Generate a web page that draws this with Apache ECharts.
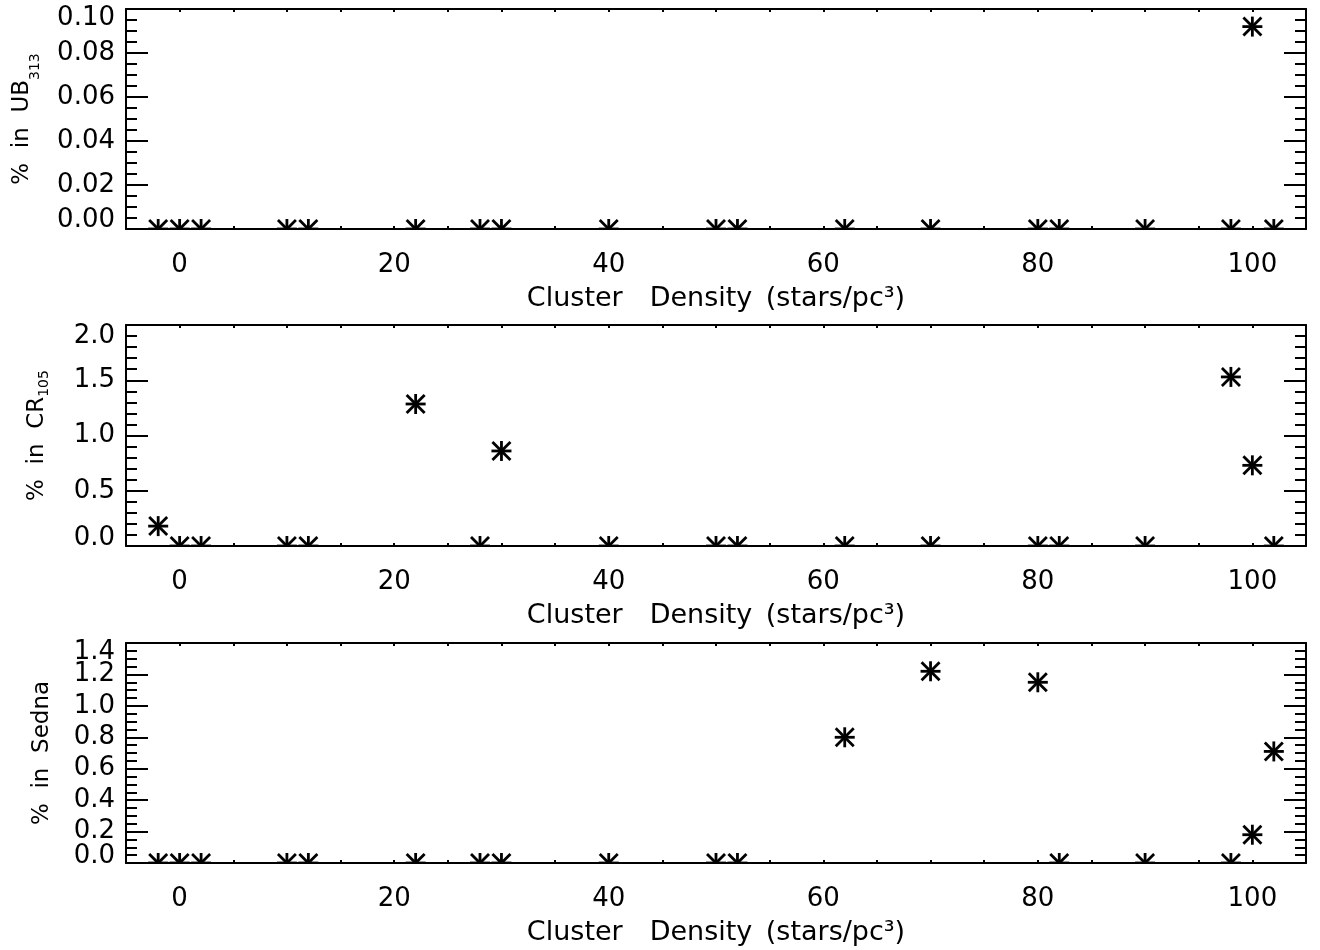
<!DOCTYPE html>
<html><head><meta charset="utf-8">
<script src="https://cdn.jsdelivr.net/npm/echarts@6/dist/echarts.min.js"></script>
<style>html,body{margin:0;padding:0;background:#fff}#c{width:1320px;height:950px}</style>
</head><body><div id="c"></div>
<script>
// ---- data ----
const densities = [-2, 0, 2, 10, 12, 22, 28, 30, 40, 50, 52, 62, 70, 80, 82, 90, 98, 100, 102];
const pctUB313  = [0, 0, 0, 0, 0, 0, 0, 0, 0, 0, 0, 0, 0, 0, 0, 0, 0, 0.092, 0];
const pctCR105  = [0.18, 0, 0, 0, 0, 1.285, 0, 0.86, 0, 0, 0, 0, 0, 0, 0, 0, 1.53, 0.73, 0];
const pctSedna  = [0, 0, 0, 0, 0, 0, 0, 0, 0, 0, 0, 0.80, 1.22, 1.15, 0, 0, 0, 0.18, 0.71];
const xTickLabels = [0, 20, 40, 60, 80, 100];
const yTicksUB313 = [0, 0.02, 0.04, 0.06, 0.08, 0.10];
const yTicksCR105 = [0, 0.5, 1.0, 1.5, 2.0];
const yTicksSedna = [0, 0.2, 0.4, 0.6, 0.8, 1.0, 1.2, 1.4];
const xTitle = 'Cluster\u2003Density\u2002(stars/pc\u00B3)';
const yTitles = ['{m|%\u2007in\u2007UB}{s|313}', '{m|%\u2007in\u2007CR}{s|105}', '{m|%\u2007in\u2007Sedna}'];

const FONT = 'DejaVu Sans';
const BLACK = '#000';

const panels = [
  { data: pctUB313, ticks: yTicksUB313, top: 9,   height: 220, minor: 4, digits: 2, mainLH: 40, subLH: 13, nameGap: 84, shiftLo: 9, shiftHi: 9 },
  { data: pctCR105, ticks: yTicksCR105, top: 325, height: 221, minor: 5, digits: 1, mainLH: 28, subLH: 19, nameGap: 75, shiftLo: 8, shiftHi: 11 },
  { data: pctSedna, ticks: yTicksSedna, top: 643, height: 220, minor: 4, digits: 1, mainLH: 28, subLH: 19, nameGap: 70, shiftLo: 7, shiftHi: 9 }
];

function renderStar(params, api) {
  const c = api.coord([api.value(0), api.value(1)]);
  const r = 10, d = 9;
  const st = { stroke: BLACK, lineWidth: 2.8, fill: null };
  return {
    type: 'group',
    children: [
      { type: 'line', shape: { x1: c[0] - r, y1: c[1], x2: c[0] + r, y2: c[1] }, style: st },
      { type: 'line', shape: { x1: c[0], y1: c[1] - r, x2: c[0], y2: c[1] + r }, style: st },
      { type: 'line', shape: { x1: c[0] - d, y1: c[1] - d, x2: c[0] + d, y2: c[1] + d }, style: st },
      { type: 'line', shape: { x1: c[0] - d, y1: c[1] + d, x2: c[0] + d, y2: c[1] - d }, style: st }
    ]
  };
}

const axisLine = { show: true, onZero: false, lineStyle: { color: BLACK, width: 2 } };
const grid = [], xAxis = [], yAxis = [], series = [];

panels.forEach((p, g) => {
  const yMin = p.ticks[0], yMax = p.ticks[p.ticks.length - 1];
  const yInt = p.ticks[1] - p.ticks[0];
  grid.push({ left: 126, right: 14, top: p.top, height: p.height, containLabel: false, outerBoundsMode: 'none' });
  xAxis.push({
    gridIndex: g, type: 'value', min: -5, max: 105, interval: 5, position: 'bottom',
    axisLine: axisLine,
    axisTick: { show: true, inside: true, length: 3, lineStyle: { color: BLACK, width: 2 } },
    axisLabel: {
      show: true, margin: 23, fontSize: 26, fontFamily: FONT, color: BLACK,
      showMinLabel: true, showMaxLabel: true,
      formatter: v => (xTickLabels.indexOf(Math.round(v)) >= 0 && Math.abs(v - Math.round(v)) < 1e-6) ? String(Math.round(v)) : ''
    },
    splitLine: { show: false },
    name: xTitle, nameLocation: 'middle', nameGap: 56,
    nameTextStyle: { fontSize: 27, fontFamily: FONT, color: BLACK }
  });
  xAxis.push({
    gridIndex: g, type: 'value', min: -5, max: 105, interval: 5, position: 'top',
    axisLine: axisLine,
    axisTick: { show: true, inside: true, length: 3, lineStyle: { color: BLACK, width: 2 } },
    axisLabel: { show: false }, splitLine: { show: false }
  });
  const rich = {
    m: { fontSize: 23, lineHeight: p.mainLH, fontFamily: FONT, color: BLACK },
    s: { fontSize: 14, lineHeight: p.subLH, verticalAlign: 'bottom', fontFamily: FONT, color: BLACK }
  };
  yAxis.push({
    gridIndex: g, type: 'value', min: yMin, max: yMax, interval: yInt, position: 'left',
    axisLine: axisLine,
    axisTick: { show: true, inside: true, length: 22, lineStyle: { color: BLACK, width: 2 } },
    minorTick: { show: true, splitNumber: p.minor, length: 11, lineStyle: { color: BLACK, width: 2 } },
    axisLabel: {
      show: true, margin: 11, fontSize: 26, fontFamily: FONT, color: BLACK,
      customValues: p.ticks.slice(1, -1),
      formatter: v => v.toFixed(p.digits)
    },
    splitLine: { show: false }, minorSplitLine: { show: false },
    name: yTitles[g], nameLocation: 'middle', nameGap: p.nameGap, nameRotate: 90,
    nameTextStyle: { fontSize: 23, fontFamily: FONT, color: BLACK, rich: rich }
  });
  yAxis.push({
    gridIndex: g, type: 'value', min: yMin, max: yMax, interval: yInt, position: 'right',
    axisLine: axisLine,
    axisTick: { show: true, inside: true, length: 22, lineStyle: { color: BLACK, width: 2 } },
    minorTick: { show: true, splitNumber: p.minor, length: 11, lineStyle: { color: BLACK, width: 2 } },
    axisLabel: { show: false }, splitLine: { show: false }, minorSplitLine: { show: false }
  });
  yAxis.push({
    gridIndex: g, type: 'value', min: yMin, max: yMax, interval: yInt, position: 'left', offset: 0,
    axisLine: { show: false }, axisTick: { show: false }, minorTick: { show: false },
    axisLabel: {
      show: true, margin: 11, fontSize: 26, fontFamily: FONT, color: BLACK,
      showMinLabel: true, showMaxLabel: true,
      customValues: [yMin, yMax],
      formatter: v => {
        const t = v.toFixed(p.digits);
        return (Math.abs(v - yMin) < yInt * 1e-6) ? '{lo|' + t + '}' : '{hi|' + t + '}';
      },
      rich: {
        lo: { fontSize: 26, fontFamily: FONT, color: BLACK, padding: [0, 0, 2 * p.shiftLo, 0] },
        hi: { fontSize: 26, fontFamily: FONT, color: BLACK, padding: [2 * p.shiftHi, 0, 0, 0] }
      }
    },
    splitLine: { show: false }, minorSplitLine: { show: false }
  });
  series.push({
    type: 'custom', xAxisIndex: 2 * g, yAxisIndex: 3 * g, clip: true, silent: true,
    renderItem: renderStar,
    data: densities.map((x, i) => [x, p.data[i]])
  });
});

const chart = echarts.init(document.getElementById('c'), null, { renderer: 'canvas' });
chart.setOption({ animation: false, backgroundColor: '#fff', grid, xAxis, yAxis, series });
</script>
</body></html>
